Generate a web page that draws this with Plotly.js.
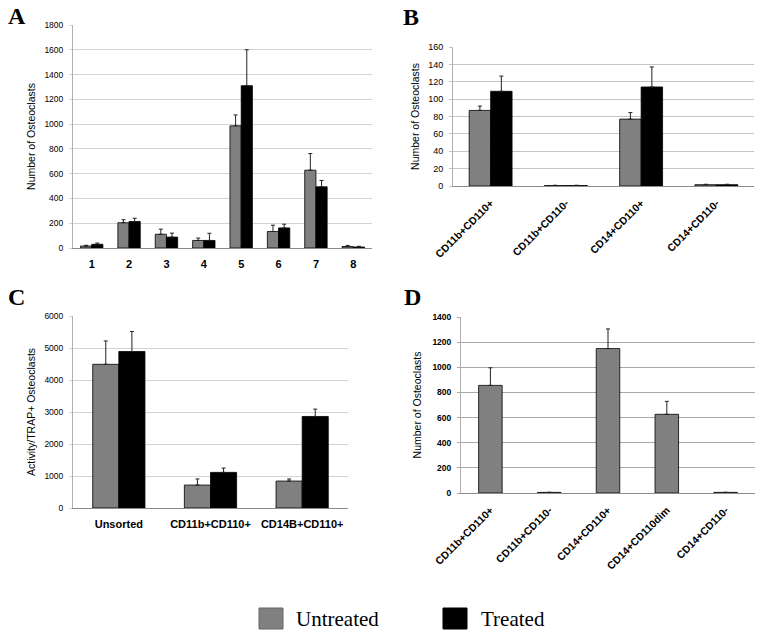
<!DOCTYPE html>
<html>
<head>
<meta charset="utf-8">
<script src="https://cdn.plot.ly/plotly-3.0.1.min.js"></script>
<style>html,body{margin:0;padding:0;background:#fff;}#chart{width:764px;height:637px;}</style>
</head>
<body>
<div id="chart"></div>
<script>
// ---- Data ----
const seriesNames = ["Untreated", "Treated"];

// Panel A
const catsA = ["1", "2", "3", "4", "5", "6", "7", "8"];
const untreatedA = [16, 204, 111, 61, 986, 133, 628, 12];
const untreatedErrA = [6, 24, 41, 19, 88, 51, 134, 9];
const treatedA = [30, 214, 88, 61, 1310, 162, 494, 8];
const treatedErrA = [10, 26, 32, 58, 290, 30, 51, 6];

// Panel B
const catsB = ["CD11b+CD110+", "CD11b+CD110-", "CD14+CD110+", "CD14+CD110-"];
const untreatedB = [87, 0.5, 77, 1.5];
const untreatedErrB = [5, 0.4, 7.5, 0.5];
const treatedB = [109, 0.5, 114, 1.5];
const treatedErrB = [17.5, 0.4, 23, 0.5];

// Panel C
const catsC = ["Unsorted", "CD11b+CD110+", "CD14B+CD110+"];
const untreatedC = [4490, 717, 842];
const untreatedErrC = [730, 190, 65];
const treatedC = [4890, 1113, 2860];
const treatedErrC = [625, 135, 230];

// Panel D (untreated only)
const catsD = ["CD11b+CD110+", "CD11b+CD110-", "CD14+CD110+", "CD14+CD110dim", "CD14+CD110-"];
const untreatedD = [856, 5, 1149, 626, 5];
const untreatedErrD = [140, 0, 156, 103, 0];

// ---- Styles ----
const GRAY = "#808080", BLACK = "#000000";
const FAM = "Liberation Sans, Arial, sans-serif";
const tickFont = {family: FAM, size: 8.5, color: "#000"};
const titleFont = {family: FAM, size: 10.5, color: "#000"};
const catFont = {family: FAM, size: 11, color: "#000", weight: "bold"};
const rotFont = {family: FAM, size: 10.5, color: "#000", weight: "bold"};

function err(arr) {
  return {type: "data", array: arr, arrayminus: arr.map(() => 0), symmetric: false,
          visible: true, color: "#222", thickness: 1, width: 2};
}
function bar(x, y, e, color, xa, ya, width, offset) {
  return {type: "bar", x: x, y: y, error_y: err(e), xaxis: xa, yaxis: ya,
          marker: {color: color, line: {color: "#000", width: 0.8}},
          width: width, offset: offset, showlegend: false, hoverinfo: "skip"};
}

const traces = [
  bar(catsA, untreatedA, untreatedErrA, GRAY, "x", "y", 0.3, -0.3),
  bar(catsA, treatedA, treatedErrA, BLACK, "x", "y", 0.3, 0),
  bar(catsB, untreatedB, untreatedErrB, GRAY, "x2", "y2", 0.285, -0.285),
  bar(catsB, treatedB, treatedErrB, BLACK, "x2", "y2", 0.285, 0),
  bar(catsC, untreatedC, untreatedErrC, GRAY, "x3", "y3", 0.285, -0.285),
  bar(catsC, treatedC, treatedErrC, BLACK, "x3", "y3", 0.285, 0),
  bar(catsD, untreatedD, untreatedErrD, GRAY, "x4", "y4", 0.4, -0.2)
];

const W = 764, H = 637;
function dx(a, b) { return [a / W, b / W]; }
function dy(top, bottom) { return [1 - bottom / H, 1 - top / H]; }

function xAxis(domain, anchor, font, angle, standoff) {
  return {domain: domain, anchor: anchor, type: "category", showgrid: false,
          showline: true, linecolor: "#8c8c8c", linewidth: 1, ticks: "",
          tickfont: font, tickangle: angle, ticklabelstandoff: standoff,
          fixedrange: true, automargin: false};
}
function yAxis(domain, anchor, range, dtick, grid, title, font, standoff) {
  return {domain: domain, anchor: anchor, range: range, dtick: dtick,
          showgrid: true, gridcolor: grid, gridwidth: 1, zeroline: false,
          showline: true, linecolor: "#b0b0b0", linewidth: 1,
          ticks: "outside", ticklen: 3, tickcolor: grid, ticklabelstandoff: 4,
          tickfont: font, fixedrange: true, automargin: false,
          title: {text: title, font: titleFont, standoff: standoff}};
}

const letterFont = {family: "Liberation Serif, Times New Roman, serif", size: 24, color: "#000", weight: "bold"};
function letter(t, x, y) {
  return {text: t, xref: "paper", yref: "paper", x: x / W, y: 1 - y / H,
          xanchor: "left", yanchor: "middle", showarrow: false, font: letterFont};
}
const legFont = {family: "Liberation Serif, Times New Roman, serif", size: 21, color: "#000"};

const layout = {
  width: W, height: H,
  margin: {l: 0, r: 0, t: 0, b: 0},
  paper_bgcolor: "#fff", plot_bgcolor: "#fff",
  barmode: "overlay",
  showlegend: false,
  xaxis: xAxis(dx(73, 372), "y", catFont, 0, 6),
  yaxis: yAxis(dy(25, 248), "x", [0, 1800], 200, "#d4d4d4", "Number of Osteoclasts", tickFont, 6),
  xaxis2: xAxis(dx(453, 754), "y2", rotFont, -45, 6),
  yaxis2: yAxis(dy(47, 186), "x2", [0, 160], 20, "#c4c4c4", "Number of Osteoclasts", {family: FAM, size: 9, color: "#000"}, 6),
  xaxis3: xAxis(dx(73, 348), "y3", catFont, 0, 6),
  yaxis3: yAxis(dy(316, 508), "x3", [0, 6000], 1000, "#d4d4d4", "Activity/TRAP+ Osteoclasts", tickFont, 6),
  xaxis4: xAxis(dx(461, 755), "y4", rotFont, -45, 6),
  yaxis4: yAxis(dy(317, 493), "x4", [0, 1400], 200, "#a8a8a8", "Number of Osteoclasts", {family: FAM, size: 8.5, color: "#000", weight: "bold"}, 8),
  annotations: [
    letter("A", 6, 16), letter("B", 401, 17), letter("C", 6, 297), letter("D", 402, 297),
    {text: seriesNames[0], xref: "paper", yref: "paper", x: 294 / W, y: 1 - 619 / H,
     xanchor: "left", yanchor: "middle", showarrow: false, font: legFont},
    {text: seriesNames[1], xref: "paper", yref: "paper", x: 479 / W, y: 1 - 619 / H,
     xanchor: "left", yanchor: "middle", showarrow: false, font: legFont}
  ],
  shapes: [
    {type: "rect", xref: "paper", yref: "paper", x0: 259 / W, x1: 283 / W, y0: 1 - 629 / H, y1: 1 - 608 / H,
     fillcolor: GRAY, line: {color: "#666", width: 1}},
    {type: "rect", xref: "paper", yref: "paper", x0: 443 / W, x1: 467 / W, y0: 1 - 629 / H, y1: 1 - 608 / H,
     fillcolor: BLACK, line: {color: "#000", width: 1}}
  ]
};

Plotly.newPlot("chart", traces, layout, {staticPlot: true, displayModeBar: false});
</script>
</body>
</html>
